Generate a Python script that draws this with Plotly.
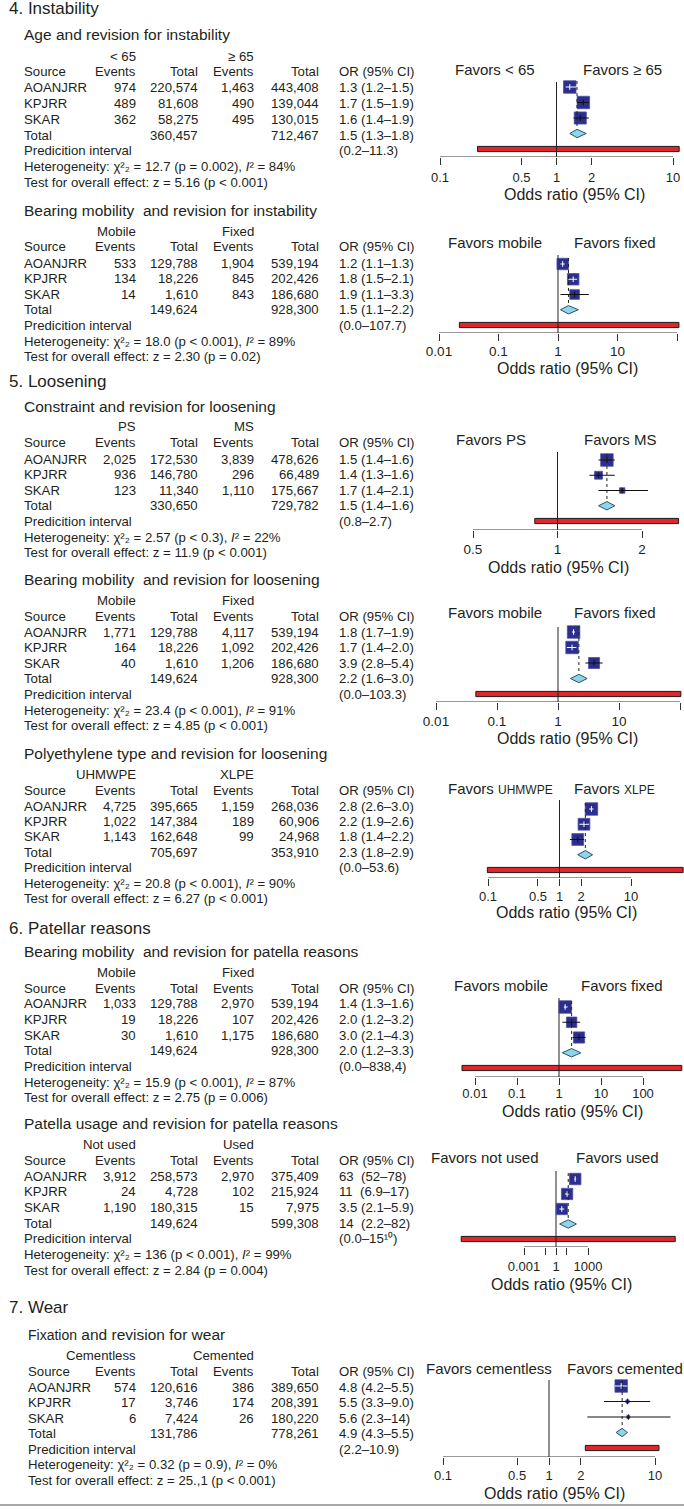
import math
import plotly.graph_objects as go

W, H = 684, 1509
FONT = "Liberation Sans, Arial, Helvetica, sans-serif"
TXT = "#231f20"

sources = ["AOANJRR", "KPJRR", "SKAR"]

# ---------------- data ----------------
headings = ["4. Instability", "5. Loosening", "6. Patellar reasons", "7. Wear"]

s1_title = "Age and revision for instability"
s1_groups = ["< 65", "≥ 65"]
s1_favors = ["Favors < 65", "Favors ≥ 65"]
s1_ev1 = [974, 489, 362]
s1_tot1 = [220574, 81608, 58275]
s1_ev2 = [1463, 490, 495]
s1_tot2 = [443408, 139044, 130015]
s1_total = [360457, 712467]
s1_or = [1.3, 1.7, 1.6]
s1_lo = [1.2, 1.5, 1.4]
s1_hi = [1.5, 1.9, 1.9]
s1_sum = [1.5, 1.3, 1.8]
s1_pi = [0.21, 11.3]
s1_or_text = ["1.3 (1.2–1.5)", "1.7 (1.5–1.9)", "1.6 (1.4–1.9)", "1.5 (1.3–1.8)", "(0.2–11.3)"]
s1_chi = "12.7 (p = 0.002)"
s1_i2 = "84%"
s1_test = "z = 5.16 (p < 0.001)"
s1_weight = [34, 34, 32]
s1_ticks = [0.1, 0.5, 1, 2, 10]
s1_ticktext = ["0.1", "0.5", "1", "2", "10"]

s2_title = "Bearing mobility  and revision for instability"
s2_groups = ["Mobile", "Fixed"]
s2_favors = ["Favors mobile", "Favors fixed"]
s2_ev1 = [533, 134, 14]
s2_tot1 = [129788, 18226, 1610]
s2_ev2 = [1904, 845, 843]
s2_tot2 = [539194, 202426, 186680]
s2_total = [149624, 928300]
s2_or = [1.2, 1.8, 1.9]
s2_lo = [1.1, 1.5, 1.1]
s2_hi = [1.3, 2.1, 3.3]
s2_sum = [1.5, 1.1, 2.2]
s2_pi = [0.022, 107.7]
s2_or_text = ["1.2 (1.1–1.3)", "1.8 (1.5–2.1)", "1.9 (1.1–3.3)", "1.5 (1.1–2.2)", "(0.0–107.7)"]
s2_chi = "18.0 (p < 0.001)"
s2_i2 = "89%"
s2_test = "z = 2.30 (p = 0.02)"
s2_weight = [37, 37, 26]
s2_ticks = [0.01, 0.1, 1, 10, 100]
s2_ticktext = ["0.01", "0.1", "1", "10", "100"]

s3_title = "Constraint and revision for loosening"
s3_groups = ["PS", "MS"]
s3_favors = ["Favors PS", "Favors MS"]
s3_ev1 = [2025, 936, 123]
s3_tot1 = [172530, 146780, 11340]
s3_ev2 = [3839, 296, 1110]
s3_tot2 = [478626, 66489, 175667]
s3_total = [330650, 729782]
s3_or = [1.5, 1.4, 1.7]
s3_lo = [1.4, 1.3, 1.4]
s3_hi = [1.6, 1.6, 2.1]
s3_sum = [1.5, 1.4, 1.6]
s3_pi = [0.83, 2.7]
s3_or_text = ["1.5 (1.4–1.6)", "1.4 (1.3–1.6)", "1.7 (1.4–2.1)", "1.5 (1.4–1.6)", "(0.8–2.7)"]
s3_chi = "2.57 (p < 0.3)"
s3_i2 = "22%"
s3_test = "z = 11.9 (p < 0.001)"
s3_weight = [63, 25, 12]
s3_ticks = [0.5, 1, 2]
s3_ticktext = ["0.5", "1", "2"]

s4_title = "Bearing mobility  and revision for loosening"
s4_groups = ["Mobile", "Fixed"]
s4_favors = ["Favors mobile", "Favors fixed"]
s4_ev1 = [1771, 164, 40]
s4_tot1 = [129788, 18226, 1610]
s4_ev2 = [4117, 1092, 1206]
s4_tot2 = [539194, 202426, 186680]
s4_total = [149624, 928300]
s4_or = [1.8, 1.7, 3.9]
s4_lo = [1.7, 1.4, 2.8]
s4_hi = [1.9, 2.0, 5.4]
s4_sum = [2.2, 1.6, 3.0]
s4_pi = [0.045, 103.3]
s4_or_text = ["1.8 (1.7–1.9)", "1.7 (1.4–2.0)", "3.9 (2.8–5.4)", "2.2 (1.6–3.0)", "(0.0–103.3)"]
s4_chi = "23.4 (p < 0.001)"
s4_i2 = "91%"
s4_test = "z = 4.85 (p < 0.001)"
s4_weight = [36, 36, 28]
s4_ticks = [0.01, 0.1, 1, 10, 100]
s4_ticktext = ["0.01", "0.1", "1", "10", "100"]

s5_title = "Polyethylene type and revision for loosening"
s5_groups = ["UHMWPE", "XLPE"]
s5_favors = ["Favors <span style='font-size:12px'>UHMWPE</span>", "Favors <span style='font-size:12px'>XLPE</span>"]
s5_ev1 = [4725, 1022, 1143]
s5_tot1 = [395665, 147384, 162648]
s5_ev2 = [1159, 189, 99]
s5_tot2 = [268036, 60906, 24968]
s5_total = [705697, 353910]
s5_or = [2.8, 2.2, 1.8]
s5_lo = [2.6, 1.9, 1.4]
s5_hi = [3.0, 2.6, 2.2]
s5_sum = [2.3, 1.8, 2.9]
s5_pi = [0.098, 53.6]
s5_or_text = ["2.8 (2.6–3.0)", "2.2 (1.9–2.6)", "1.8 (1.4–2.2)", "2.3 (1.8–2.9)", "(0.0–53.6)"]
s5_chi = "20.8 (p < 0.001)"
s5_i2 = "90%"
s5_test = "z = 6.27 (p < 0.001)"
s5_weight = [36, 32, 32]
s5_ticks = [0.1, 0.5, 1, 2, 10]
s5_ticktext = ["0.1", "0.5", "1", "2", "10"]

s6_title = "Bearing mobility  and revision for patella reasons"
s6_groups = ["Mobile", "Fixed"]
s6_favors = ["Favors mobile", "Favors fixed"]
s6_ev1 = [1033, 19, 30]
s6_tot1 = [129788, 18226, 1610]
s6_ev2 = [2970, 107, 1175]
s6_tot2 = [539194, 202426, 186680]
s6_total = [149624, 928300]
s6_or = [1.4, 2.0, 3.0]
s6_lo = [1.3, 1.2, 2.1]
s6_hi = [1.6, 3.2, 4.3]
s6_sum = [2.0, 1.2, 3.3]
s6_pi = [0.0049, 838.4]
s6_or_text = ["1.4 (1.3–1.6)", "2.0 (1.2–3.2)", "3.0 (2.1–4.3)", "2.0 (1.2–3.3)", "(0.0–838,4)"]
s6_chi = "15.9 (p < 0.001)"
s6_i2 = "87%"
s6_test = "z = 2.75 (p = 0.006)"
s6_weight = [40, 28, 32]
s6_ticks = [0.01, 0.1, 1, 10, 100]
s6_ticktext = ["0.01", "0.1", "1", "10", "100"]

s7_title = "Patella usage and revision for patella reasons"
s7_groups = ["Not used", "Used"]
s7_favors = ["Favors not used", "Favors used"]
s7_ev1 = [3912, 24, 1190]
s7_tot1 = [258573, 4728, 180315]
s7_ev2 = [2970, 102, 15]
s7_tot2 = [375409, 215924, 7975]
s7_total = [149624, 599308]
s7_or = [63, 11, 3.5]
s7_lo = [52, 6.9, 2.1]
s7_hi = [78, 17, 5.9]
s7_sum = [14, 2.2, 82]
s7_pi = [1.3e-9, 1.5e11]
s7_or_text = ["63\u00a0\u00a0(52–78)", "11\u00a0\u00a0(6.9–17)", "3.5 (2.1–5.9)", "14\u00a0\u00a0(2.2–82)", "(0.0–15¹⁰)"]
s7_chi = "136 (p < 0.001)"
s7_i2 = "99%"
s7_test = "z = 2.84 (p = 0.004)"
s7_weight = [34, 33, 33]
s7_ticks = [0.001, 0.1, 1, 10, 1000]
s7_ticktext = ["0.001", " ", "1", " ", "1000"]

s8_title = "<span style='font-size:14px'>Fixation</span> and revision for wear"
s8_groups = ["Cementless", "Cemented"]
s8_favors = ["Favors cementless", "Favors cemented"]
s8_ev1 = [574, 17, 6]
s8_tot1 = [120616, 3746, 7424]
s8_ev2 = [386, 174, 26]
s8_tot2 = [389650, 208391, 180220]
s8_total = [131786, 778261]
s8_or = [4.8, 5.5, 5.6]
s8_lo = [4.2, 3.3, 2.3]
s8_hi = [5.5, 9.0, 14]
s8_sum = [4.9, 4.3, 5.5]
s8_pi = [2.2, 10.9]
s8_or_text = ["4.8 (4.2–5.5)", "5.5 (3.3–9.0)", "5.6 (2.3–14)", "4.9 (4.3–5.5)", "(2.2–10.9)"]
s8_chi = "0.32 (p = 0.9)"
s8_i2 = "0%"
s8_test = "z = 25.,1 (p < 0.001)"
s8_weight = [89, 6, 5]
s8_ticks = [0.1, 0.5, 1, 2, 10]
s8_ticktext = ["0.1", "0.5", "1", "2", "10"]


def mk(p):
    g = globals()
    keys = ["title", "groups", "favors", "ev1", "tot1", "ev2", "tot2", "total", "or", "lo", "hi",
            "sum", "pi", "or_text", "chi", "i2", "test", "weight", "ticks", "ticktext"]
    return {k: g[p + "_" + k] for k in keys}


sections = [mk("s%d" % i) for i in range(1, 9)]

# ---------------- layout geometry (pixels) ----------------
heading_y = [9, 381, 928, 1307]
COL = dict(ev1=138, tot1=200, ev2=256, tot2=321, orx=337)

geo = [
    dict(tbl0=88, tstep=15.7, sx=22, row0=87, step=15.5, vtop=82, axis=157, fav_y=69, fav_x=(495, 622),
         cal=((0.1, 440), (10, 673)), tt=(574, 195), so=1, tf=13, smax=12.5, ci=["w", "k", "k"]),
    dict(tbl0=263, tstep=15.6, sx=22, row0=264, step=15.25, vtop=255, axis=333, fav_y=242, fav_x=(495, 615),
         cal=((0.01, 439), (100, 677)), tt=(567, 368), so=-1, tf=13.5, smax=11.5, ci=["w", "w", "k"]),
    dict(tbl0=459, tstep=15.6, sx=22, row0=460, step=15.25, vtop=452, axis=530, fav_y=440, fav_x=(491, 620),
         cal=((0.5, 473), (2, 642)), tt=(558, 567), so=0, tf=13.5, smax=12.5, ci=["k", "k", "k"]),
    dict(tbl0=632, tstep=15.6, sx=22, row0=632, step=15.5, vtop=627, axis=702, fav_y=612, fav_x=(495, 615),
         cal=((0.01, 436), (100, 680)), tt=(567, 739), so=0, tf=13.5, smax=12.5, ci=["w", "w", "k"]),
    dict(tbl0=806, tstep=15.4, sx=22, row0=809, step=15.25, vtop=800, axis=878, fav_y=788, fav_x=(501, 614),
         cal=((0.1, 488), (10, 631)), tt=(566, 913), so=-1, tf=13, smax=12.5, ci=["w", "w", "k"]),
    dict(tbl0=1004, tstep=15.6, sx=22, row0=1007, step=15.25, vtop=998, axis=1077, fav_y=985, fav_x=(501, 622),
         cal=((0.01, 475), (100, 643)), tt=(572, 1111), so=-3, tf=13, smax=12.5, ci=["w", "k", "k"]),
    dict(tbl0=1176, tstep=15.7, sx=22, row0=1179, step=15.0, vtop=1171, axis=1247, fav_y=1157, fav_x=(485, 617),
         cal=((0.001, 524), (1000, 588)), tt=(561, 1284), so=0, tf=13, smax=11.5, ci=["w", "w", "w"]),
    dict(tbl0=1387, tstep=15.5, sx=26, row0=1386, step=15.5, vtop=1380, axis=1457, fav_y=1368, fav_x=(489, 625),
         cal=((0.1, 443), (10, 655)), tt=(554, 1493), so=-1, tf=13, smax=12.5, ci=["w", "k", "k"]),
]

ann = []


def txt(x, y, s, anchor="left", size=13.2, color=TXT):
    ann.append(dict(x=x / W, y=1 - y / H, xref="paper", yref="paper", text=s, showarrow=False,
                    xanchor=anchor, yanchor="middle", font=dict(size=size, color=color, family=FONT)))


fig = go.Figure()
X0 = 420

for k, (sec, g) in enumerate(zip(sections, geo)):
    n = k + 1
    sfx = "" if n == 1 else str(n)
    xr, yr = "x" + sfx, "y" + sfx
    (v1, p1), (v2, p2) = g["cal"]
    dec = (p2 - p1) / (math.log10(v2) - math.log10(v1))
    lo_r = math.log10(v1) - (p1 - X0) / dec
    hi_r = math.log10(v1) + (W - p1) / dec
    top = g["fav_y"] + 9
    fig.update_layout(**{
        "xaxis" + sfx: dict(type="log", domain=[X0 / W, 1], range=[lo_r, hi_r], anchor=yr,
                            tickmode="array", tickvals=sec["ticks"], ticktext=sec["ticktext"],
                            ticks="outside", ticklen=7, tickwidth=1, tickcolor="#333",
                            showline=False, showgrid=False, zeroline=False,
                            tickfont=dict(size=g["tf"], color=TXT, family=FONT),
                            ticklabelstandoff=g["so"], fixedrange=True),
        "yaxis" + sfx: dict(domain=[1 - g["axis"] / H, 1 - top / H], range=[g["axis"], top],
                            visible=False, anchor=xr, fixedrange=True),
    })
    ry = [g["row0"] + i * g["step"] for i in range(5)]
    common = dict(xaxis=xr, yaxis=yr, showlegend=False, hoverinfo="skip")

    # prediction interval bar
    pl, ph = sec["pi"]
    yb = ry[4]
    fig.add_trace(go.Scatter(x=[pl, ph, ph, pl, pl], y=[yb - 2.6, yb - 2.6, yb + 2.6, yb + 2.6, yb - 2.6],
                             mode="lines", fill="toself", fillcolor="#e1262b",
                             line=dict(color="#1a1a1a", width=1), **common))
    # line of no effect
    fig.add_trace(go.Scatter(x=[1, 1], y=[g["vtop"], g["axis"]], mode="lines",
                             line=dict(color="#222", width=1), **common))
    # axis line
    t = sec["ticks"]
    fig.add_trace(go.Scatter(x=[t[0], t[-1]], y=[g["axis"], g["axis"]], mode="lines",
                             line=dict(color="#333", width=1), **common))
    # squares
    wmax = max(sec["weight"])
    sizes = [g["smax"] * math.sqrt(w / wmax) for w in sec["weight"]]
    fig.add_trace(go.Scatter(x=sec["or"], y=ry[:3], mode="markers", cliponaxis=False,
                             marker=dict(symbol="square", size=sizes, color="#2b2e8c", opacity=1,
                                         line=dict(color="#4e52a6", width=0.8)), **common))
    # CI lines and estimate ticks
    for col in ("k", "w"):
        xs, ys, mx, my = [], [], [], []
        for i in range(3):
            if g["ci"][i] == col:
                xs += [sec["lo"][i], sec["hi"][i], None]
                ys += [ry[i], ry[i], None]
                mx.append(sec["or"][i])
                my.append(ry[i])
        if xs:
            c = "#111" if col == "k" else "#ffffff"
            fig.add_trace(go.Scatter(x=xs, y=ys, mode="lines", line=dict(color=c, width=1), **common))
            fig.add_trace(go.Scatter(x=mx, y=my, mode="markers",
                                     marker=dict(symbol="line-ns", size=4, color=c, line=dict(color=c, width=1)),
                                     **common))
    # summary dotted line
    est, slo, shi = sec["sum"]
    fig.add_trace(go.Scatter(x=[est, est], y=[ry[0] - 6, ry[3] - 4], mode="lines",
                             line=dict(color="#222", width=1, dash="dot"), **common))
    # diamond
    fig.add_trace(go.Scatter(x=[slo, est, shi, est, slo], y=[ry[3], ry[3] - 4.2, ry[3], ry[3] + 4.2, ry[3]],
                             mode="lines", fill="toself", fillcolor="#8fd4ea",
                             line=dict(color="#2c5566", width=1), **common))

    # favors labels and axis title
    txt(g["fav_x"][0], g["fav_y"], sec["favors"][0], "center", 15)
    txt(g["fav_x"][1], g["fav_y"], sec["favors"][1], "center", 15)
    txt(g["tt"][0], g["tt"][1], "Odds ratio (95% CI)", "center", 16)

    # left table
    r0, st, sx = g["tbl0"], g["tstep"], g["sx"]
    txt(sx, r0 - 53, sec["title"], "left", 15.5)
    txt(COL["ev1"], r0 - 32, sec["groups"][0], "right")
    txt(COL["ev2"], r0 - 32, sec["groups"][1], "right")
    hy = r0 - 16
    txt(sx, hy, "Source")
    txt(COL["ev1"], hy, "Events", "right")
    txt(COL["tot1"], hy, "Total", "right")
    txt(COL["ev2"], hy, "Events", "right")
    txt(COL["tot2"], hy, "Total", "right")
    txt(COL["orx"], hy, "OR (95% CI)")
    for i in range(3):
        y = r0 + i * st
        txt(sx, y, sources[i])
        txt(COL["ev1"], y, f"{sec['ev1'][i]:,}", "right")
        txt(COL["tot1"], y, f"{sec['tot1'][i]:,}", "right")
        txt(COL["ev2"], y, f"{sec['ev2'][i]:,}", "right")
        txt(COL["tot2"], y, f"{sec['tot2'][i]:,}", "right")
        txt(COL["orx"], y, sec["or_text"][i])
    y = r0 + 3 * st
    txt(sx, y, "Total")
    txt(COL["tot1"], y, f"{sec['total'][0]:,}", "right")
    txt(COL["tot2"], y, f"{sec['total'][1]:,}", "right")
    txt(COL["orx"], y, sec["or_text"][3])
    y = r0 + 4 * st
    txt(sx, y, "Predicition interval")
    txt(COL["orx"], y, sec["or_text"][4])
    y = r0 + 5 * st
    txt(sx, y, "Heterogeneity: χ²₂ = " + sec["chi"] + ", <i>I</i>² = " + sec["i2"])
    y = r0 + 6 * st
    txt(sx, y, "Test for overall effect: " + sec["test"])

for h, y in zip(headings, heading_y):
    txt(7, y, h, "left", 17)

fig.update_layout(
    width=W, height=H, margin=dict(l=0, r=0, t=0, b=0, pad=0),
    paper_bgcolor="white", plot_bgcolor="rgba(0,0,0,0)",
    font=dict(family=FONT, color=TXT), annotations=ann, showlegend=False,
    shapes=[dict(type="line", xref="paper", yref="paper", x0=0, x1=1, y0=1 - 1505 / H, y1=1 - 1505 / H,
                 line=dict(color="#8a8a8a", width=1.5))],
)

fig.write_html("out.html", config={"displayModeBar": False},
               post_script="document.body.style.margin='0';document.body.style.padding='0';")
